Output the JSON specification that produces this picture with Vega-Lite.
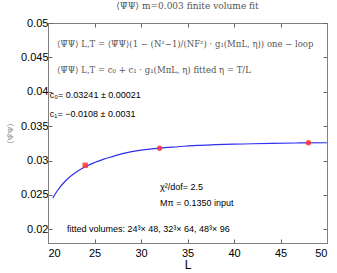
{
  "$schema": "https://vega.github.io/schema/vega-lite/v6.json",
  "width": 279,
  "height": 220,
  "autosize": "none",
  "padding": {"left": 48, "top": 23, "right": 10, "bottom": 30},
  "config": {
    "view": {"stroke": "#808080"},
    "axis": {"labelFont": "Liberation Sans", "titleFont": "Liberation Sans", "labelColor": "#000", "grid": false, "domainColor": "#808080", "tickColor": "#666", "labelFontSize": 11}
  },
  "title": {"text": "⟨Ψ̄Ψ⟩ m=0.003 finite volume fit", "font": "DejaVu Serif", "fontSize": 9, "fontWeight": "normal", "color": "#555", "offset": 6},
  "datasets": {
    "curve": [
      {"L": 20.5, "v": 0.0245},
      {"L": 21, "v": 0.0256},
      {"L": 22, "v": 0.0272},
      {"L": 23, "v": 0.0283},
      {"L": 24, "v": 0.0291},
      {"L": 25, "v": 0.0297},
      {"L": 26, "v": 0.0302},
      {"L": 27, "v": 0.0306},
      {"L": 28, "v": 0.0310},
      {"L": 29, "v": 0.0313},
      {"L": 30, "v": 0.0315},
      {"L": 32, "v": 0.0318},
      {"L": 34, "v": 0.0320},
      {"L": 36, "v": 0.0322},
      {"L": 38, "v": 0.0323},
      {"L": 41, "v": 0.0324},
      {"L": 44, "v": 0.0325},
      {"L": 47, "v": 0.03255},
      {"L": 50, "v": 0.03258}
    ],
    "pts": [
      {"L": 24, "v": 0.0293},
      {"L": 32, "v": 0.03178},
      {"L": 48, "v": 0.03258}
    ],
    "notes": [
      {"L": 20.97, "v": 0.04692, "t": "⟨Ψ̄Ψ⟩ L,T = ⟨Ψ̄Ψ⟩(1 − (N²−1)/(NF²) · g₁(MπL, η))   one − loop", "f": "serif"},
      {"L": 20.97, "v": 0.04316, "t": "⟨Ψ̄Ψ⟩ L,T = c₀ + c₁ · g₁(MπL, η) fitted  η = T/L", "f": "serif"},
      {"L": 20.2, "v": 0.03954, "t": "c₀=  0.03241 ± 0.00021", "f": "sans"},
      {"L": 20.2, "v": 0.03679, "t": "c₁=  −0.0108 ± 0.0031", "f": "sans"},
      {"L": 32.04, "v": 0.02608, "t": "χ²/dof= 2.5", "f": "sans"},
      {"L": 32.04, "v": 0.02376, "t": "Mπ = 0.1350  input", "f": "sans"},
      {"L": 22.04, "v": 0.02, "t": "fitted volumes:  24³× 48, 32³× 64, 48³× 96", "f": "sans"}
    ]
  },
  "layer": [
    {
      "data": {"name": "curve"},
      "mark": {"type": "line", "color": "#3030f0", "strokeWidth": 1.2, "interpolate": "monotone"},
      "encoding": {
        "x": {"field": "L", "type": "quantitative", "scale": {"domain": [20, 50], "nice": false},
          "axis": {"values": [20, 25, 30, 35, 40, 45, 50], "tickSize": -4, "labelPadding": 8, "title": "L", "titleFontSize": 12, "titleFontWeight": "normal", "titlePadding": 1, "titleColor": "#000"}},
        "y": {"field": "v", "type": "quantitative", "scale": {"domain": [0.018, 0.05], "nice": false, "zero": false},
          "axis": {"values": [0.02, 0.025, 0.03, 0.035, 0.04, 0.045, 0.05], "format": "~g", "tickSize": -4, "labelPadding": 4, "title": "⟨Ψ̄Ψ⟩", "titleFont": "DejaVu Serif", "titleFontSize": 8, "titleFontWeight": "normal", "titleColor": "#888", "titlePadding": 6}}
      }
    },
    {
      "data": {"name": "curve"},
      "mark": {"type": "point", "opacity": 0},
      "encoding": {
        "x": {"field": "L", "type": "quantitative", "axis": {"orient": "top", "values": [20, 25, 30, 35, 40, 45, 50], "labels": false, "tickSize": -4, "title": null}},
        "y": {"field": "v", "type": "quantitative", "axis": {"orient": "right", "values": [0.02, 0.025, 0.03, 0.035, 0.04, 0.045, 0.05], "labels": false, "tickSize": -4, "title": null}}
      }
    },
    {
      "data": {"name": "pts"},
      "mark": {"type": "point", "filled": true, "color": "#ff3030", "size": 28, "opacity": 0.85},
      "encoding": {
        "x": {"field": "L", "type": "quantitative", "axis": null},
        "y": {"field": "v", "type": "quantitative", "axis": null},
        "shape": {"condition": {"test": "datum.L == 24", "value": "square"}, "value": "circle"}
      }
    },
    {
      "data": {"name": "notes"},
      "transform": [{"filter": "datum.f == 'serif'"}],
      "mark": {"type": "text", "align": "left", "baseline": "middle", "font": "DejaVu Serif", "fontSize": 8.5, "color": "#555"},
      "encoding": {
        "x": {"field": "L", "type": "quantitative", "axis": null},
        "y": {"field": "v", "type": "quantitative", "axis": null},
        "text": {"field": "t"}
      }
    },
    {
      "data": {"name": "notes"},
      "transform": [{"filter": "datum.f == 'sans'"}],
      "mark": {"type": "text", "align": "left", "baseline": "middle", "font": "Liberation Sans", "fontSize": 9, "color": "#000"},
      "encoding": {
        "x": {"field": "L", "type": "quantitative", "axis": null},
        "y": {"field": "v", "type": "quantitative", "axis": null},
        "text": {"field": "t"}
      }
    }
  ],
  "resolve": {"axis": {"x": "independent", "y": "independent"}}
}
